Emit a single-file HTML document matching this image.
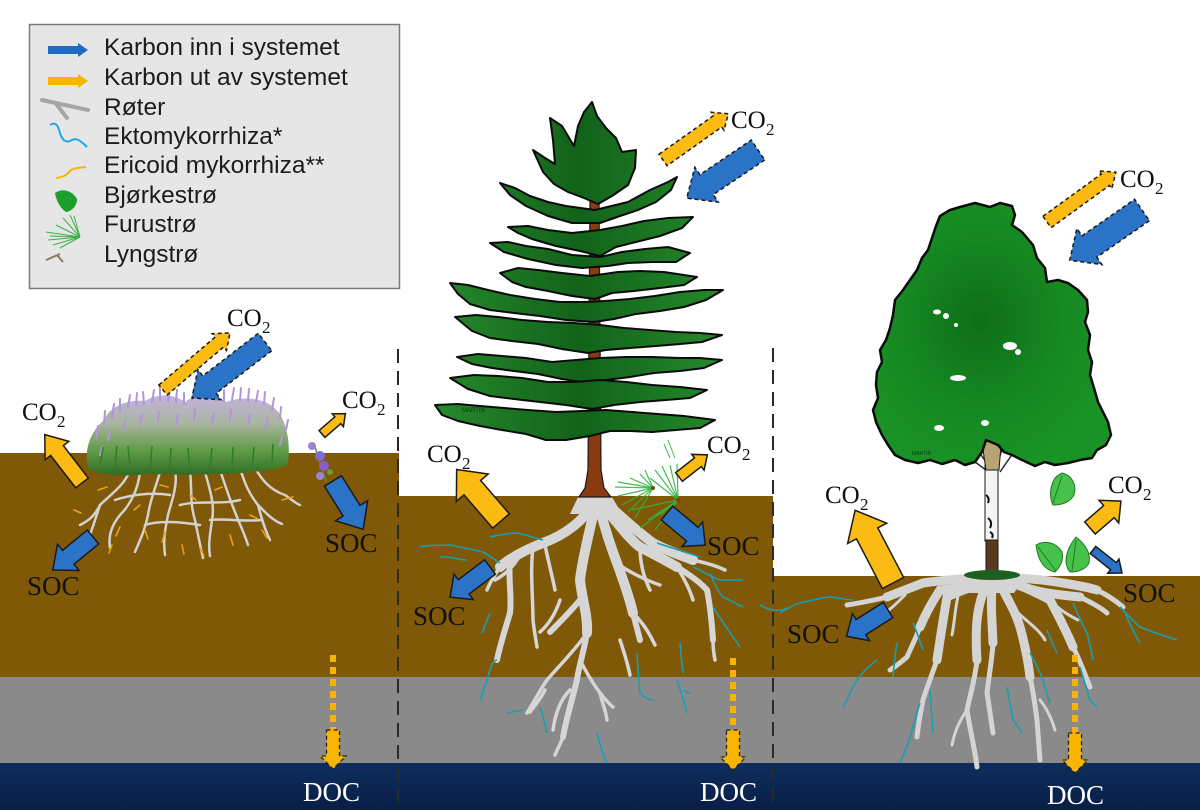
<!DOCTYPE html>
<html><head><meta charset="utf-8"><style>
html,body{margin:0;padding:0;background:#fff;}
svg{display:block;}
.co{font-family:"Liberation Serif",serif;font-size:25px;fill:#111;}
.sub{font-family:"Liberation Serif",serif;font-size:17px;fill:#111;}
.soc{font-family:"Liberation Serif",serif;font-size:27px;fill:#111;}
.doc{font-family:"Liberation Serif",serif;font-size:27px;fill:#fff;}
.lg{font-family:"Liberation Sans",sans-serif;font-size:24.5px;fill:#1c1c1c;}
</style></head><body>
<svg width="1200" height="810" viewBox="0 0 1200 810" xmlns="http://www.w3.org/2000/svg">
<defs>
<linearGradient id="bush" x1="0" y1="0" x2="0" y2="1">
<stop offset="0" stop-color="#c3b3dc"/><stop offset="0.35" stop-color="#a9b5a0"/><stop offset="0.7" stop-color="#5f9a45"/><stop offset="1" stop-color="#2f6d22"/>
</linearGradient>
<radialGradient id="birch" cx="0.45" cy="0.45" r="0.6">
<stop offset="0" stop-color="#0f6e18"/><stop offset="0.6" stop-color="#168a22"/><stop offset="1" stop-color="#1a9326"/>
</radialGradient>
<linearGradient id="pine" gradientUnits="userSpaceOnUse" x1="435" y1="0" x2="725" y2="0">
<stop offset="0" stop-color="#268a2c"/><stop offset="0.5" stop-color="#12621a"/><stop offset="1" stop-color="#268a2c"/>
</linearGradient>
<linearGradient id="navy" x1="0" y1="0" x2="0" y2="1">
<stop offset="0" stop-color="#0f2d5c"/><stop offset="1" stop-color="#081f47"/>
</linearGradient>
</defs>

<!-- soil layers -->
<rect x="0" y="453" width="399" height="224" fill="#7f5907"/>
<rect x="399" y="496" width="374" height="181" fill="#7f5907"/>
<rect x="773" y="576" width="427" height="101" fill="#7f5907"/>
<rect x="0" y="677" width="1200" height="86" fill="#8a8a8a"/>
<rect x="0" y="763" width="1200" height="47" fill="url(#navy)"/>

<!-- separators -->
<line x1="398" y1="349" x2="398" y2="810" stroke="#2a2a2a" stroke-width="2" stroke-dasharray="14 8"/>
<line x1="773" y1="348" x2="773" y2="810" stroke="#2a2a2a" stroke-width="2" stroke-dasharray="14 8"/>

<!-- Legend -->
<rect x="29.5" y="24.5" width="370" height="264" fill="#e6e6e6" stroke="#7a7a7a" stroke-width="1.5"/>
<polygon transform="translate(48,50)" points="0,-4 30,-4 30,-7 40,0 30,7 30,4 0,4" fill="#1f6cc4"/>
<polygon transform="translate(48,81)" points="0,-4 30,-4 30,-7 40,0 30,7 30,4 0,4" fill="#f7b400"/>
<path d="M42,100 L88,110 M57,105 L67,118" stroke="#a6a6a6" stroke-width="4" stroke-linecap="round" fill="none"/>
<path d="M50,125 C56,121 58,126 60,133 C62,140 66,143 70,141 C76,137 80,140 87,147" stroke="#1aa8e4" stroke-width="2" fill="none"/>
<path d="M56,178 C62,177 66,176 69,172 C72,168 78,168 86,167" stroke="#f5b800" stroke-width="2" fill="none"/>
<path d="M55,193 C62,188 72,190 77,199 C77,206 72,211 66,212 C60,208 56,200 55,193 Z" fill="#1c9e2a"/>
<path d="M80,237 L46,232 M80,237 L48,240 M80,237 L53,245 M80,237 L60,248 M80,237 L63,218 M80,237 L70,215 M80,237 L56,225 M80,237 L74,216 M80,237 L50,236" stroke="#3db04a" stroke-width="1" fill="none"/>
<path d="M46,260 L60,254 M57,255 L63,262" stroke="#8a7a5a" stroke-width="2" fill="none"/>
<text class="lg" x="104" y="55">Karbon inn i systemet</text>
<text class="lg" x="104" y="85">Karbon ut av systemet</text>
<text class="lg" x="104" y="115">Røter</text>
<text class="lg" x="104" y="144">Ektomykorrhiza*</text>
<text class="lg" x="104" y="173">Ericoid mykorrhiza**</text>
<text class="lg" x="104" y="203">Bjørkestrø</text>
<text class="lg" x="104" y="232">Furustrø</text>
<text class="lg" x="104" y="262">Lyngstrø</text>

<!-- ================= PANEL 1: heather ================= -->
<g stroke="#d2d2d2" stroke-width="2.5" fill="none" stroke-linecap="round">
<path d="M130,470 C125,485 110,495 100,505 C95,515 90,520 80,525"/>
<path d="M140,472 C138,490 130,505 120,515 C112,525 108,535 110,548"/>
<path d="M160,472 C155,490 150,500 148,515 C145,530 140,540 135,552"/>
<path d="M175,470 C178,485 172,500 168,515 C165,530 163,540 165,555"/>
<path d="M190,470 C192,490 190,505 195,520 C198,535 200,545 203,558"/>
<path d="M205,472 C210,490 215,505 212,520 C210,535 208,545 210,556"/>
<path d="M220,470 C225,485 230,500 235,512 C240,525 245,535 248,545"/>
<path d="M240,468 C245,485 250,495 258,505 C265,512 272,520 282,524"/>
<path d="M255,468 C262,480 270,490 285,495 C292,500 298,505 300,505"/>
<path d="M115,500 C130,495 150,492 170,495"/>
<path d="M180,505 C200,500 220,505 240,500"/>
<path d="M145,525 C160,520 180,522 200,525"/>
<path d="M210,520 C225,518 240,522 262,520"/>
<path d="M100,505 C95,520 92,530 88,540"/>
<path d="M258,505 C262,520 265,530 270,540"/>
</g>
<g stroke="#e6a31a" stroke-width="1.6" fill="none" stroke-linecap="round">
<path d="M98,490 l9,-3 M74,510 l7,3 M145,530 l3,9 M165,532 l-3,10 M200,548 l4,8 M250,515 l8,4 M282,500 l11,-3 M230,535 l3,10 M120,527 l-4,9 M190,495 l6,5 M112,545 l-3,8 M160,485 l8,2 M215,490 l7,-3 M262,530 l5,8 M140,505 l-6,5 M182,545 l2,9"/>
</g>
<path d="M88,468 C84,450 90,432 104,420 C110,406 128,399 145,401 C160,392 175,395 185,402 C196,393 214,395 226,402 C242,396 262,398 272,406 C286,416 291,440 288,464 C275,474 200,476 150,474 C120,477 95,475 88,468 Z" fill="url(#bush)"/>
<g stroke="#b394dc" stroke-width="2" fill="none" stroke-linecap="round">
<path d="M96,438 l2,-12 M104,424 l1,-13 M112,418 l2,-14 M120,412 l0,-13 M128,407 l2,-12 M136,405 l1,-12 M144,404 l-1,-12 M152,402 l2,-12 M160,400 l0,-12 M168,401 l2,-12 M176,402 l1,-12 M184,404 l0,-11 M192,400 l2,-12 M200,399 l0,-11 M208,400 l2,-12 M216,401 l1,-12 M224,402 l0,-12 M232,400 l2,-12 M240,400 l1,-12 M248,401 l1,-12 M256,402 l2,-11 M264,404 l1,-12 M272,410 l2,-12 M280,418 l1,-11 M286,430 l2,-10"/>
<path d="M108,440 l2,-10 M124,430 l1,-10 M140,425 l2,-10 M158,422 l1,-10 M176,425 l2,-10 M194,420 l1,-10 M212,424 l2,-10 M230,420 l1,-10 M248,425 l2,-10 M266,428 l1,-10 M100,455 l2,-8 M280,445 l2,-9"/>
</g>
<g stroke="#2f7d26" stroke-width="1.5" fill="none">
<path d="M100,465 l3,-18 M115,468 l2,-22 M130,466 l-2,-20 M150,470 l2,-24 M170,468 l1,-20 M190,470 l-2,-22 M210,468 l2,-20 M232,469 l1,-22 M252,467 l2,-20 M272,462 l1,-18"/>
</g>
<path d="M315,447 L326,482" stroke="#6a8a3a" stroke-width="1.5"/>
<circle cx="312" cy="446" r="4" fill="#9a86d0"/>
<circle cx="320" cy="456" r="5" fill="#7e6ad0"/>
<circle cx="324" cy="466" r="5" fill="#8b5fc8"/>
<circle cx="320" cy="476" r="4" fill="#9a86d0"/>
<circle cx="330" cy="472" r="3" fill="#6f9a3a"/>

<!-- ================= PANEL 2: pine ================= -->
<g stroke="#d6d6d6" fill="none" stroke-linecap="round">
<polygon points="578,497 612,497 622,514 570,514" fill="#d6d6d6" stroke="none"/>
<g stroke-width="10">
<path d="M594,502 C585,520 565,535 543,543 C525,550 510,558 500,567"/>
<path d="M596,502 C590,530 582,560 580,580 C582,600 588,615 587,633"/>
<path d="M598,502 C605,530 612,550 617,563 C625,585 630,600 633,613"/>
<path d="M600,502 C615,520 630,540 640,547 C655,555 665,560 677,567"/>
<path d="M602,500 C620,515 635,530 653,543 C665,550 680,555 693,560"/>
</g>
<g stroke-width="6">
<path d="M587,633 C583,655 578,670 577,680 C572,700 566,720 563,737"/>
<path d="M677,567 C690,575 700,582 707,590 C710,605 712,625 713,640"/>
<path d="M633,613 C636,625 638,632 640,640"/>
<path d="M580,600 C570,612 560,622 550,632"/>
<path d="M510,560 C508,580 512,595 510,613 C505,630 500,645 497,660"/>
</g>
<g stroke-width="3.5">
<path d="M500,567 C495,575 490,582 487,590"/>
<path d="M533,548 C530,570 533,600 533,620 C534,630 536,640 537,647"/>
<path d="M587,633 C575,650 560,665 547,680 C540,690 535,700 527,713"/>
<path d="M580,660 C590,680 598,690 600,693 C603,705 606,712 607,720"/>
<path d="M600,693 C606,700 610,705 613,707"/>
<path d="M563,737 C560,745 557,750 555,755"/>
<path d="M617,563 C625,570 645,580 660,585"/>
<path d="M633,613 C645,625 650,635 655,645"/>
<path d="M677,567 C685,580 690,590 693,600"/>
<path d="M713,640 C713,650 714,655 715,660"/>
<path d="M545,545 C548,560 552,575 555,590"/>
<path d="M520,555 C515,565 505,575 495,580"/>
<path d="M640,547 C640,565 645,580 650,590"/>
<path d="M693,560 C705,563 715,565 725,570"/>
<path d="M570,690 C560,700 555,715 553,730"/>
<path d="M560,600 C555,615 548,625 540,632"/>
<path d="M620,640 C625,655 628,665 630,675"/>
<path d="M545,690 C540,700 535,705 530,712"/>
</g>
</g>
<g stroke="#1a9fb2" stroke-width="1.6" fill="none">
<path d="M420,547 C430,544 440,546 450,545 C465,548 475,550 483,552 C490,556 495,560 500,563"/>
<path d="M440,557 C450,556 458,560 467,560"/>
<path d="M490,537 C500,535 508,533 517,533 C527,535 535,538 543,540"/>
<path d="M482,633 C485,625 487,620 490,613"/>
<path d="M480,700 C483,692 485,686 487,680 C490,670 492,660 497,660"/>
<path d="M507,713 C512,712 518,711 523,710"/>
<path d="M540,707 C543,715 545,725 547,733"/>
<path d="M597,733 C600,745 603,755 607,763"/>
<path d="M637,653 C638,670 639,680 640,693 C645,698 650,700 653,700"/>
<path d="M677,680 C682,695 685,705 687,713 M684,690 C686,692 688,693 690,693"/>
<path d="M657,543 C672,548 688,553 700,557"/>
<path d="M693,567 C705,572 712,578 720,580 C728,580 735,580 743,580"/>
<path d="M710,573 C715,585 718,592 723,597 C730,600 737,604 743,607"/>
<path d="M713,607 C720,618 727,628 733,637 C736,641 738,644 740,647"/>
<path d="M680,643 C681,655 682,665 683,673"/>
<path d="M760,605 C768,610 775,612 790,608"/>
</g>
<polygon points="590,200 599,200 601,470 604,488 611,497 579,497 585,488 588,470" fill="#8a3b12" stroke="#1a1a1a" stroke-width="1.2"/>
<g fill="url(#pine)" stroke="#0b0b0b" stroke-width="2" stroke-linejoin="round">
<polygon points="592,102 597,116 606,128 616,138 622,152 636,150 635,168 628,185 612,196 598,204 584,198 568,192 554,184 543,172 533,150 545,158 555,164 553,140 550,118 562,126 574,146 578,126 584,112"/>
<polygon points="500,183 515,188 530,196 548,202 566,206 595,210 628,202 650,190 668,182 677,177 671,190 656,202 638,210 620,216 600,223 572,223 548,216 526,206 510,195"/>
<polygon points="508,227 528,226 548,230 572,233 600,230 622,226 644,221 668,218 693,217 682,228 660,236 636,242 616,247 600,256 580,251 556,246 532,239 518,233"/>
<polygon points="490,243 508,242 526,246 548,249 572,255 600,257 622,252 645,249 668,247 690,253 676,262 652,262 628,263 608,266 582,268 556,265 528,259 504,252"/>
<polygon points="500,273 518,268 538,270 562,273 590,276 618,272 640,271 664,272 697,277 684,285 660,288 634,291 612,293 595,299 572,296 548,291 526,287 512,282"/>
<polygon points="450,283 468,285 488,290 510,295 535,299 560,302 585,302 605,301 630,299 655,296 680,292 704,290 723,290 706,300 684,307 660,311 636,314 614,319 594,322 566,320 540,316 514,313 490,310 470,304 458,294"/>
<polygon points="455,317 476,315 498,317 522,320 548,322 574,323 600,325 624,328 650,330 676,332 700,333 722,335 702,342 680,344 656,346 630,348 606,350 588,353 562,349 538,344 512,341 490,338 472,331"/>
<polygon points="457,357 478,354 502,356 526,358 552,362 576,360 600,358 626,357 652,357 680,358 700,358 722,360 704,368 680,371 654,373 630,377 606,380 588,383 562,379 538,374 514,371 492,368 472,364"/>
<polygon points="450,378 474,375 498,376 522,378 548,382 574,382 600,380 626,382 652,385 680,387 707,390 690,398 666,400 640,402 614,405 592,409 566,405 540,402 514,399 490,396 468,389"/>
<polygon points="435,405 458,404 480,406 504,408 528,410 556,412 582,411 606,410 632,412 658,414 684,416 715,420 700,428 676,430 652,432 630,431 610,431 590,436 566,440 546,440 526,434 502,430 480,426 458,421 442,415"/>
</g>
<text x="462" y="412" font-family="Liberation Sans,sans-serif" font-size="6" fill="#0a3a0a">MARTIN</text>
<g stroke="#2fb540" stroke-width="1.2" fill="none" opacity="0.9">
<path d="M653,488 L615,487 M653,488 L618,496 M653,488 L622,505 M653,488 L628,512 M653,488 L635,518 M653,488 L630,478 M653,488 L640,474 M653,488 L645,470 M653,488 L618,482"/>
<path d="M678,500 L655,470 M678,500 L662,466 M678,500 L670,465 M678,500 L677,464 M678,500 L650,478 M678,500 L660,515 M678,500 L648,520 M678,500 L640,528 M678,500 L655,530 M678,500 L632,510"/>
<path d="M668,440 L675,458 M664,444 L670,458" stroke-width="1"/>
</g>
<circle cx="653" cy="488" r="2" fill="#8a3b12"/>
<circle cx="678" cy="500" r="2" fill="#8a3b12"/>

<!-- ================= PANEL 3: birch ================= -->
<g stroke="#d4d4d4" fill="none" stroke-linecap="round">
<polygon points="955,577 1025,577 1014,593 966,593" fill="#d4d4d4" stroke="none"/>
<g stroke-width="9">
<path d="M985,578 C965,578 945,580 923,583 C905,590 895,594 887,597"/>
<path d="M987,580 C975,585 960,588 940,590 C930,605 925,615 920,627"/>
<path d="M988,580 C965,590 955,593 947,597 C943,620 940,640 937,660"/>
<path d="M990,580 C976,600 975,630 977,660"/>
<path d="M993,580 C990,600 992,620 993,643"/>
<path d="M997,578 C1005,595 1015,610 1020,627 C1025,645 1028,660 1030,677"/>
<path d="M1000,578 C1020,585 1035,592 1050,600 C1058,615 1066,630 1073,647"/>
<path d="M1003,577 C1025,578 1045,580 1063,583 C1075,585 1087,587 1097,590"/>
<path d="M1010,582 C1025,588 1035,591 1047,593 C1060,595 1070,596 1080,597"/>
</g>
<g stroke-width="5">
<path d="M887,597 C875,600 865,602 847,605"/>
<path d="M920,627 C915,640 910,650 907,657 C900,663 895,667 890,670"/>
<path d="M937,660 C930,680 926,690 923,700 C920,715 918,727 917,737"/>
<path d="M977,660 C975,680 970,695 967,710 C970,730 975,750 977,767"/>
<path d="M993,643 C992,660 989,675 987,693 C989,705 991,720 993,733"/>
<path d="M1030,677 C1033,690 1035,705 1037,720 C1038,735 1039,748 1040,760"/>
<path d="M1073,647 C1080,660 1085,675 1090,687"/>
<path d="M1097,590 C1107,595 1115,600 1123,607"/>
<path d="M1080,597 C1090,602 1100,607 1107,613"/>
</g>
<g stroke-width="3">
<path d="M960,588 C955,605 955,620 952,635"/>
<path d="M1015,610 C1025,620 1040,630 1045,640"/>
<path d="M967,710 C960,720 955,730 952,745"/>
<path d="M1040,700 C1048,710 1052,720 1055,730"/>
<path d="M905,595 C895,605 888,612 880,615"/>
<path d="M1050,600 C1060,610 1068,615 1078,620"/>
</g>
</g>
<g stroke="#1a9fb2" stroke-width="1.6" fill="none">
<path d="M780,613 C788,608 795,604 800,603 C812,600 820,598 830,597 C840,598 846,600 853,600"/>
<path d="M843,707 C848,698 852,688 857,680 C863,672 870,665 877,660"/>
<path d="M900,763 C905,752 910,740 913,727 C915,718 918,710 920,703"/>
<path d="M893,677 C894,665 895,655 897,643"/>
<path d="M930,690 C931,705 932,718 933,733"/>
<path d="M913,623 C917,632 920,642 923,650"/>
<path d="M1120,607 C1128,615 1134,622 1140,627 C1152,632 1165,636 1177,640"/>
<path d="M1125,612 C1130,625 1135,635 1140,643"/>
<path d="M1073,603 C1078,615 1083,625 1087,633 C1090,645 1092,652 1093,660"/>
<path d="M1080,667 C1084,680 1087,690 1090,700 C1092,703 1095,705 1097,707"/>
<path d="M1030,653 C1035,662 1040,672 1043,680 C1046,690 1048,698 1050,703"/>
<path d="M1007,687 C1009,698 1011,710 1013,720 C1017,725 1020,730 1023,733"/>
<path d="M1047,630 C1050,638 1054,646 1057,653"/>
</g>
<path d="M945,440 L986,470 M968,436 L988,465 M1005,438 L996,470 M1022,440 L1000,472" stroke="#2a2a2a" stroke-width="1.5"/>
<rect x="985" y="455" width="13" height="86" fill="#f4f4f4" stroke="#1a1a1a" stroke-width="1"/>
<polygon points="984,428 996,432 1001,445 999,470 986,470 983,450" fill="#b9a274" stroke="#1a1a1a" stroke-width="1"/>
<path d="M986,495 q4,3 2,8 M988,518 q5,4 2,10 M990,532 q4,2 2,6" stroke="#111" stroke-width="2" fill="none"/>
<rect x="986" y="540" width="12" height="37" fill="#5a3a1c" stroke="#1a1a1a" stroke-width="1"/>
<ellipse cx="992" cy="575" rx="28" ry="5" fill="#1e5e1e"/>
<polygon fill="url(#birch)" stroke="#0b0b0b" stroke-width="2.5" stroke-linejoin="round" points="960,207 975,203 990,207 1000,203 1012,206 1015,215 1012,225 1022,232 1033,245 1037,258 1045,268 1047,282 1058,280 1068,283 1078,290 1087,300 1088,312 1085,322 1090,335 1088,350 1092,362 1090,375 1094,388 1098,402 1103,412 1108,422 1111,435 1106,445 1097,450 1092,458 1080,460 1068,463 1055,465 1045,462 1035,466 1022,460 1012,455 1004,452 998,445 986,440 982,452 975,462 965,465 955,460 942,464 930,460 918,463 905,460 895,455 888,445 882,435 876,422 873,410 878,398 876,385 877,372 882,362 880,350 886,340 890,328 893,315 895,300 903,290 910,280 917,270 922,258 928,250 932,238 936,226 940,216 950,210"/>
<g fill="#fff">
<ellipse cx="937" cy="312" rx="4" ry="2.5"/><ellipse cx="946" cy="316" rx="3" ry="3"/><circle cx="956" cy="325" r="2"/>
<ellipse cx="1010" cy="346" rx="7" ry="4"/><ellipse cx="1018" cy="352" rx="3" ry="3"/>
<ellipse cx="958" cy="378" rx="8" ry="3"/>
<ellipse cx="939" cy="428" rx="5" ry="3"/>
<ellipse cx="985" cy="423" rx="4" ry="3"/>
</g>
<text x="912" y="455" font-family="Liberation Sans,sans-serif" font-size="5" fill="#0a3a0a">MARTIN</text>
<g fill="#46c24a" stroke="#1f7a24" stroke-width="1">
<path d="M1062,473 C1072,475 1077,485 1074,495 C1070,502 1062,505 1053,505 C1049,496 1050,486 1055,478 C1058,475 1060,474 1062,473 Z"/>
<path d="M1036,545 C1045,540 1056,542 1062,552 C1064,560 1060,567 1055,572 C1045,570 1038,562 1036,545 Z"/>
<path d="M1076,537 C1085,544 1091,553 1089,563 C1085,570 1078,572 1070,572 C1064,565 1064,552 1076,537 Z"/>
</g>
<path d="M1062,476 L1053,503 M1038,547 L1056,571 M1076,540 L1072,571" stroke="#1f7a24" stroke-width="1"/>

<!-- ================= ARROWS ================= -->
<g stroke="#1a1a1a" stroke-width="1.5" stroke-linejoin="miter">
<polygon transform="translate(163,390) rotate(-40.4)" points="0,-6.5 74,-6.5 74,-11 88,0 74,11 74,6.5 0,6.5" fill="#fbbb12" stroke-dasharray="4 3"/>
<polygon transform="translate(265,342) rotate(142.5)" points="0,-11 70,-11 70,-19 92,0 70,19 70,11 0,11" fill="#2b73c7" stroke-dasharray="4 3"/>
<polygon transform="translate(82,483) rotate(-127.6)" points="0,-8 41,-8 41,-15 61,0 41,15 41,8 0,8" fill="#fbbb12"/>
<polygon transform="translate(93,537) rotate(140.6)" points="0,-9 32,-9 32,-17 52,0 32,17 32,9 0,9" fill="#2b73c7"/>
<polygon transform="translate(322,434) rotate(-41)" points="0,-4.5 21,-4.5 21,-8.5 31,0 21,8.5 21,4.5 0,4.5" fill="#fbbb12"/>
<polygon transform="translate(333,481) rotate(58)" points="0,-10 35,-10 35,-19 57,0 35,19 35,10 0,10" fill="#2b73c7"/>
<polygon transform="translate(663,160) rotate(-35.3)" points="0,-7 67,-7 67,-11 80,0 67,11 67,7 0,7" fill="#fbbb12" stroke-dasharray="4 3"/>
<polygon transform="translate(758,150) rotate(146)" points="0,-12 62,-12 62,-21 86,0 62,21 62,12 0,12" fill="#2b73c7" stroke-dasharray="4 3"/>
<polygon transform="translate(501,521) rotate(-130.7)" points="0,-11 44,-11 44,-21 68,0 44,21 44,11 0,11" fill="#fbbb12"/>
<polygon transform="translate(679,477) rotate(-38)" points="0,-5.5 24,-5.5 24,-10 36,0 24,10 24,5.5 0,5.5" fill="#fbbb12"/>
<polygon transform="translate(667,513) rotate(40)" points="0,-9 33,-9 33,-16 50,0 33,16 33,9 0,9" fill="#2b73c7"/>
<polygon transform="translate(490,567) rotate(143)" points="0,-9 33,-9 33,-16 50,0 33,16 33,9 0,9" fill="#2b73c7"/>
<polygon transform="translate(1047,222) rotate(-35.9)" points="0,-7 72,-7 72,-11 85,0 72,11 72,7 0,7" fill="#fbbb12" stroke-dasharray="4 3"/>
<polygon transform="translate(1142,210) rotate(145.2)" points="0,-13 64,-13 64,-22 88,0 64,22 64,13 0,13" fill="#2b73c7" stroke-dasharray="4 3"/>
<polygon transform="translate(893,583) rotate(-117.5)" points="0,-12 56,-12 56,-22 82,0 56,22 56,12 0,12" fill="#fbbb12"/>
<polygon transform="translate(1090,528) rotate(-41)" points="0,-8 25,-8 25,-15 41,0 25,15 25,8 0,8" fill="#fbbb12"/>
<polygon transform="translate(1093,550) rotate(38.4)" points="0,-4.5 26,-4.5 26,-9 37,0 26,9 26,4.5 0,4.5" fill="#2b73c7"/>
<polygon transform="translate(888,610) rotate(147.6)" points="0,-9 32,-9 32,-16 49,0 32,16 32,9 0,9" fill="#2b73c7"/>
</g>

<!-- DOC dotted arrows -->
<g>
<line x1="333" y1="655" x2="333" y2="730" stroke="#f7b400" stroke-width="6" stroke-dasharray="7 5"/>
<polygon points="326.5,730 339.5,730 339.5,756 346,756 333,769 320,756 326.5,756" fill="#f7b400" stroke="#222" stroke-width="1.3" stroke-dasharray="4 3"/>
<line x1="733" y1="658" x2="733" y2="730" stroke="#f7b400" stroke-width="6" stroke-dasharray="7 5"/>
<polygon points="726.5,730 739.5,730 739.5,757 746,757 733,770 720,757 726.5,757" fill="#f7b400" stroke="#222" stroke-width="1.3" stroke-dasharray="4 3"/>
<line x1="1075" y1="655" x2="1075" y2="733" stroke="#f7b400" stroke-width="6" stroke-dasharray="7 5"/>
<polygon points="1068.5,733 1081.5,733 1081.5,760 1088,760 1075,773 1062,760 1068.5,760" fill="#f7b400" stroke="#222" stroke-width="1.3" stroke-dasharray="4 3"/>
</g>

<!-- ================= LABELS ================= -->
<text class="co" x="227" y="326">CO</text><text class="sub" x="262" y="333">2</text>
<text class="co" x="22" y="420">CO</text><text class="sub" x="57" y="427">2</text>
<text class="co" x="342" y="408">CO</text><text class="sub" x="377" y="415">2</text>
<text class="co" x="731" y="128">CO</text><text class="sub" x="766" y="135">2</text>
<text class="co" x="427" y="462">CO</text><text class="sub" x="462" y="469">2</text>
<text class="co" x="707" y="453">CO</text><text class="sub" x="742" y="460">2</text>
<text class="co" x="1120" y="187">CO</text><text class="sub" x="1155" y="194">2</text>
<text class="co" x="825" y="503">CO</text><text class="sub" x="860" y="510">2</text>
<text class="co" x="1108" y="493">CO</text><text class="sub" x="1143" y="500">2</text>

<text class="soc" x="27" y="595">SOC</text>
<text class="soc" x="325" y="552">SOC</text>
<text class="soc" x="707" y="555">SOC</text>
<text class="soc" x="413" y="625">SOC</text>
<text class="soc" x="1123" y="602">SOC</text>
<text class="soc" x="787" y="643">SOC</text>

<text class="doc" x="303" y="801">DOC</text>
<text class="doc" x="700" y="801">DOC</text>
<text class="doc" x="1047" y="804">DOC</text>
</svg>
</body></html>
